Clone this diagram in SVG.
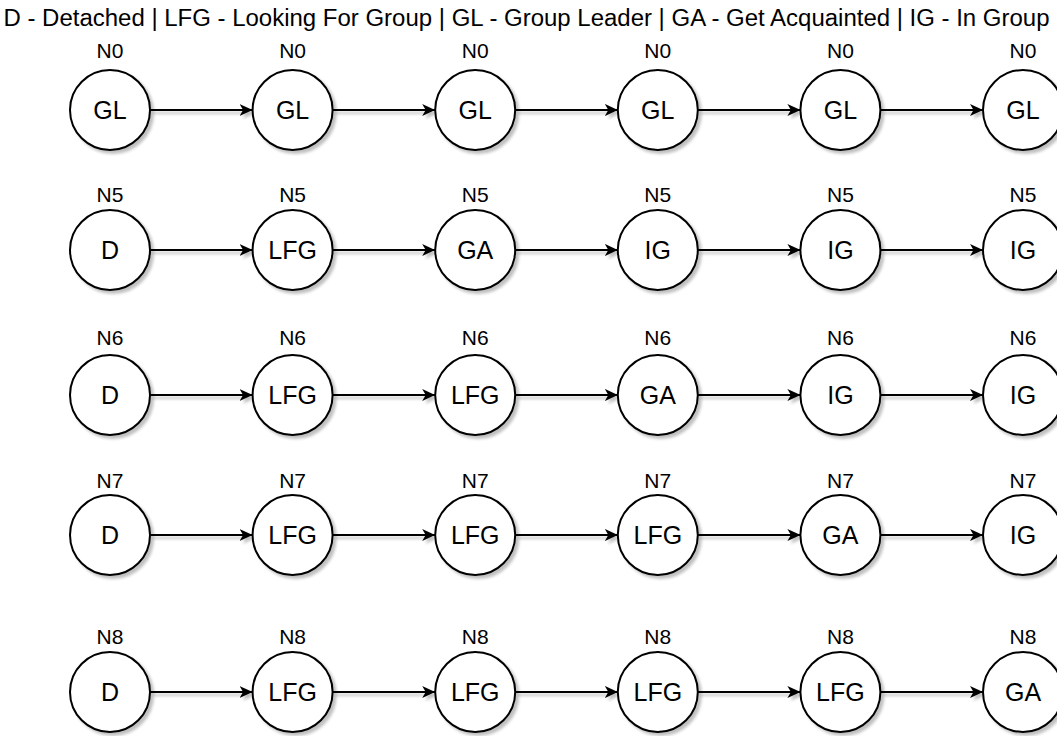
<svg xmlns="http://www.w3.org/2000/svg" width="1057" height="736" viewBox="0 0 1057 736">
  <style>
    .node circle { fill: #ffffff; stroke: #000000; stroke-width: 2; }
    .state { font-family: "Liberation Sans", Arial, sans-serif; font-size: 25px; fill: #000; text-anchor: middle; }
    .tag { font-family: "Liberation Sans", Arial, sans-serif; font-size: 21px; fill: #000; text-anchor: middle; }
    .title { font-family: "Liberation Sans", Arial, sans-serif; font-size: 23.5px; fill: #000; text-anchor: middle; }
    .edge { stroke: #000; stroke-width: 2; fill: none; marker-end: url(#arrow); }
  </style>
  <defs>
    <filter id="shadow" x="-20%" y="-20%" width="150%" height="150%">
      <feGaussianBlur in="SourceAlpha" stdDeviation="1.5"/>
      <feOffset dx="3" dy="3" result="off"/>
      <feComponentTransfer><feFuncA type="linear" slope="0.25"/></feComponentTransfer>
      <feMerge><feMergeNode/><feMergeNode in="SourceGraphic"/></feMerge>
    </filter>
    <marker id="arrow" viewBox="0 0 13 12" refX="13" refY="6" markerWidth="13" markerHeight="12" markerUnits="userSpaceOnUse" orient="auto">
      <path d="M0,0 L13,6 L0,12 L3.5,6 Z" fill="#000"/>
    </marker>
  </defs>
  <rect width="1057" height="736" fill="#ffffff"/>

  <text class="title" x="526.5" y="26" textLength="1046" lengthAdjust="spacingAndGlyphs">D - Detached | LFG - Looking For Group | GL - Group Leader | GA - Get Acquainted | IG - In Group</text>

  <!-- connectors: each edge runs from one circle's right side to the next one's left side -->
  <g id="connectors" filter="url(#shadow)">
    <line class="edge" x1="150" y1="110" x2="252.6" y2="110"/>
    <line class="edge" x1="332.6" y1="110" x2="435.2" y2="110"/>
    <line class="edge" x1="515.2" y1="110" x2="617.8" y2="110"/>
    <line class="edge" x1="697.8" y1="110" x2="800.4" y2="110"/>
    <line class="edge" x1="880.4" y1="110" x2="983" y2="110"/>

    <line class="edge" x1="150" y1="250" x2="252.6" y2="250"/>
    <line class="edge" x1="332.6" y1="250" x2="435.2" y2="250"/>
    <line class="edge" x1="515.2" y1="250" x2="617.8" y2="250"/>
    <line class="edge" x1="697.8" y1="250" x2="800.4" y2="250"/>
    <line class="edge" x1="880.4" y1="250" x2="983" y2="250"/>

    <line class="edge" x1="150" y1="395" x2="252.6" y2="395"/>
    <line class="edge" x1="332.6" y1="395" x2="435.2" y2="395"/>
    <line class="edge" x1="515.2" y1="395" x2="617.8" y2="395"/>
    <line class="edge" x1="697.8" y1="395" x2="800.4" y2="395"/>
    <line class="edge" x1="880.4" y1="395" x2="983" y2="395"/>

    <line class="edge" x1="150" y1="535" x2="252.6" y2="535"/>
    <line class="edge" x1="332.6" y1="535" x2="435.2" y2="535"/>
    <line class="edge" x1="515.2" y1="535" x2="617.8" y2="535"/>
    <line class="edge" x1="697.8" y1="535" x2="800.4" y2="535"/>
    <line class="edge" x1="880.4" y1="535" x2="983" y2="535"/>

    <line class="edge" x1="150" y1="692" x2="252.6" y2="692"/>
    <line class="edge" x1="332.6" y1="692" x2="435.2" y2="692"/>
    <line class="edge" x1="515.2" y1="692" x2="617.8" y2="692"/>
    <line class="edge" x1="697.8" y1="692" x2="800.4" y2="692"/>
    <line class="edge" x1="880.4" y1="692" x2="983" y2="692"/>
  </g>

  <!-- row N0 -->
  <g id="n0-t0" class="node"><circle cx="110" cy="110" r="40" filter="url(#shadow)"/><text class="state" x="110" y="119">GL</text><text class="tag" x="110" y="58">N0</text></g>
  <g id="n0-t1" class="node"><circle cx="292.6" cy="110" r="40" filter="url(#shadow)"/><text class="state" x="292.6" y="119">GL</text><text class="tag" x="292.6" y="58">N0</text></g>
  <g id="n0-t2" class="node"><circle cx="475.2" cy="110" r="40" filter="url(#shadow)"/><text class="state" x="475.2" y="119">GL</text><text class="tag" x="475.2" y="58">N0</text></g>
  <g id="n0-t3" class="node"><circle cx="657.8" cy="110" r="40" filter="url(#shadow)"/><text class="state" x="657.8" y="119">GL</text><text class="tag" x="657.8" y="58">N0</text></g>
  <g id="n0-t4" class="node"><circle cx="840.4" cy="110" r="40" filter="url(#shadow)"/><text class="state" x="840.4" y="119">GL</text><text class="tag" x="840.4" y="58">N0</text></g>
  <g id="n0-t5" class="node"><circle cx="1023" cy="110" r="40" filter="url(#shadow)"/><text class="state" x="1023" y="119">GL</text><text class="tag" x="1023" y="58">N0</text></g>

  <!-- row N5 -->
  <g id="n5-t0" class="node"><circle cx="110" cy="250" r="40" filter="url(#shadow)"/><text class="state" x="110" y="259">D</text><text class="tag" x="110" y="202">N5</text></g>
  <g id="n5-t1" class="node"><circle cx="292.6" cy="250" r="40" filter="url(#shadow)"/><text class="state" x="292.6" y="259">LFG</text><text class="tag" x="292.6" y="202">N5</text></g>
  <g id="n5-t2" class="node"><circle cx="475.2" cy="250" r="40" filter="url(#shadow)"/><text class="state" x="475.2" y="259">GA</text><text class="tag" x="475.2" y="202">N5</text></g>
  <g id="n5-t3" class="node"><circle cx="657.8" cy="250" r="40" filter="url(#shadow)"/><text class="state" x="657.8" y="259">IG</text><text class="tag" x="657.8" y="202">N5</text></g>
  <g id="n5-t4" class="node"><circle cx="840.4" cy="250" r="40" filter="url(#shadow)"/><text class="state" x="840.4" y="259">IG</text><text class="tag" x="840.4" y="202">N5</text></g>
  <g id="n5-t5" class="node"><circle cx="1023" cy="250" r="40" filter="url(#shadow)"/><text class="state" x="1023" y="259">IG</text><text class="tag" x="1023" y="202">N5</text></g>

  <!-- row N6 -->
  <g id="n6-t0" class="node"><circle cx="110" cy="395" r="40" filter="url(#shadow)"/><text class="state" x="110" y="404">D</text><text class="tag" x="110" y="345">N6</text></g>
  <g id="n6-t1" class="node"><circle cx="292.6" cy="395" r="40" filter="url(#shadow)"/><text class="state" x="292.6" y="404">LFG</text><text class="tag" x="292.6" y="345">N6</text></g>
  <g id="n6-t2" class="node"><circle cx="475.2" cy="395" r="40" filter="url(#shadow)"/><text class="state" x="475.2" y="404">LFG</text><text class="tag" x="475.2" y="345">N6</text></g>
  <g id="n6-t3" class="node"><circle cx="657.8" cy="395" r="40" filter="url(#shadow)"/><text class="state" x="657.8" y="404">GA</text><text class="tag" x="657.8" y="345">N6</text></g>
  <g id="n6-t4" class="node"><circle cx="840.4" cy="395" r="40" filter="url(#shadow)"/><text class="state" x="840.4" y="404">IG</text><text class="tag" x="840.4" y="345">N6</text></g>
  <g id="n6-t5" class="node"><circle cx="1023" cy="395" r="40" filter="url(#shadow)"/><text class="state" x="1023" y="404">IG</text><text class="tag" x="1023" y="345">N6</text></g>

  <!-- row N7 -->
  <g id="n7-t0" class="node"><circle cx="110" cy="535" r="40" filter="url(#shadow)"/><text class="state" x="110" y="544">D</text><text class="tag" x="110" y="488">N7</text></g>
  <g id="n7-t1" class="node"><circle cx="292.6" cy="535" r="40" filter="url(#shadow)"/><text class="state" x="292.6" y="544">LFG</text><text class="tag" x="292.6" y="488">N7</text></g>
  <g id="n7-t2" class="node"><circle cx="475.2" cy="535" r="40" filter="url(#shadow)"/><text class="state" x="475.2" y="544">LFG</text><text class="tag" x="475.2" y="488">N7</text></g>
  <g id="n7-t3" class="node"><circle cx="657.8" cy="535" r="40" filter="url(#shadow)"/><text class="state" x="657.8" y="544">LFG</text><text class="tag" x="657.8" y="488">N7</text></g>
  <g id="n7-t4" class="node"><circle cx="840.4" cy="535" r="40" filter="url(#shadow)"/><text class="state" x="840.4" y="544">GA</text><text class="tag" x="840.4" y="488">N7</text></g>
  <g id="n7-t5" class="node"><circle cx="1023" cy="535" r="40" filter="url(#shadow)"/><text class="state" x="1023" y="544">IG</text><text class="tag" x="1023" y="488">N7</text></g>

  <!-- row N8 -->
  <g id="n8-t0" class="node"><circle cx="110" cy="692" r="40" filter="url(#shadow)"/><text class="state" x="110" y="701">D</text><text class="tag" x="110" y="644">N8</text></g>
  <g id="n8-t1" class="node"><circle cx="292.6" cy="692" r="40" filter="url(#shadow)"/><text class="state" x="292.6" y="701">LFG</text><text class="tag" x="292.6" y="644">N8</text></g>
  <g id="n8-t2" class="node"><circle cx="475.2" cy="692" r="40" filter="url(#shadow)"/><text class="state" x="475.2" y="701">LFG</text><text class="tag" x="475.2" y="644">N8</text></g>
  <g id="n8-t3" class="node"><circle cx="657.8" cy="692" r="40" filter="url(#shadow)"/><text class="state" x="657.8" y="701">LFG</text><text class="tag" x="657.8" y="644">N8</text></g>
  <g id="n8-t4" class="node"><circle cx="840.4" cy="692" r="40" filter="url(#shadow)"/><text class="state" x="840.4" y="701">LFG</text><text class="tag" x="840.4" y="644">N8</text></g>
  <g id="n8-t5" class="node"><circle cx="1023" cy="692" r="40" filter="url(#shadow)"/><text class="state" x="1023" y="701">GA</text><text class="tag" x="1023" y="644">N8</text></g>
</svg>
